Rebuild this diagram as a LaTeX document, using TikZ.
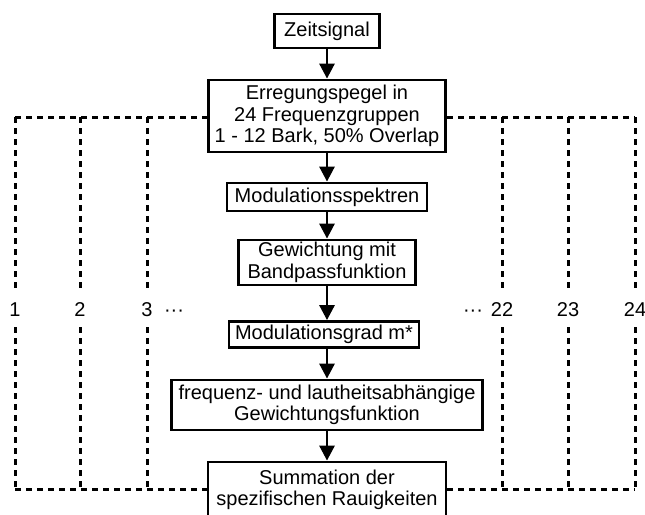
\documentclass[tikz,border=0pt]{standalone}
\usepackage{fontspec}
\setmainfont{Liberation Sans}
\usepackage{tikz}
\usetikzlibrary{arrows.meta,positioning}

\begin{document}
\begin{tikzpicture}[x = 1pt, y = -1pt,
  box/.style = {draw, line width=2.8pt, align=center, inner sep=0pt, font=\fontsize{20}{21.5}\selectfont},
  lbl/.style = {inner sep=0pt, minimum height=34pt, font=\fontsize{20}{21.5}\selectfont},
  arr/.style = {-{Triangle[length=15pt,width=15pt]}, line width=2.8pt},
  band/.style = {line width=3pt, dash pattern=on 6pt off 5pt}]
\useasboundingbox (0,0) rectangle (645,514);

\node[box, minimum width=105pt, minimum height=34pt] (zeit) at (327, 31) {Zeitsignal};
\node[box, minimum width=237pt, minimum height=72pt] (erreg) at (327, 116) {Erregungspegel in\\24 Frequenzgruppen\\1 - 12 Bark, 50\% Overlap};
\node[box, minimum width=200pt, minimum height=28pt] (modsp) at (327, 197) {Modulationsspektren};
\node[box, minimum width=177pt, minimum height=45pt] (gew) at (327, 262.5) {Gewichtung mit\\Bandpassfunktion};
\node[box, minimum width=190pt, minimum height=26pt] (modgrad) at (324, 334.5) {Modulationsgrad m*};
\node[box, minimum width=311pt, minimum height=50pt] (freq) at (327, 405) {frequenz- und lautheitsabhängige\\Gewichtungsfunktion};
\node[box, minimum width=238pt, minimum height=56pt] (summ) at (327, 490) {Summation der\\spezifischen Rauigkeiten};

\draw[arr] (zeit) -- (erreg);
\draw[arr] (erreg) -- (modsp);
\draw[arr] (modsp) -- (gew);
\draw[arr] (gew) -- (modgrad.north -| gew.south);
\draw[arr] (modgrad.south -| freq.north) -- (freq);
\draw[arr] (freq) -- (summ);

% 24 Frequenzgruppen
\foreach \x/\n in {15/1, 80/2, 147/3, 502/22, 568/23, 635/24} {
  \node[lbl] (b\n) at (\x, 310) {\n};
  \coordinate (t\n) at (\x, 117);
  \coordinate (u\n) at (\x, 489);
  \draw[band] (t\n) -- (b\n);
  \draw[band] (b\n) -- (u\n);
}
\node[lbl] (dl) at (174, 313) {\textperiodcentered\textperiodcentered\textperiodcentered};
\node[lbl] (dr) at (473, 313) {\textperiodcentered\textperiodcentered\textperiodcentered};

\draw[band] (t1) -- (erreg.west |- t1);
\draw[band] (erreg.east |- t24) -- (t24);
\draw[band] (u1) -- (summ.west |- u1);
\draw[band] (summ.east |- u24) -- (u24);

\end{tikzpicture}
\end{document}
